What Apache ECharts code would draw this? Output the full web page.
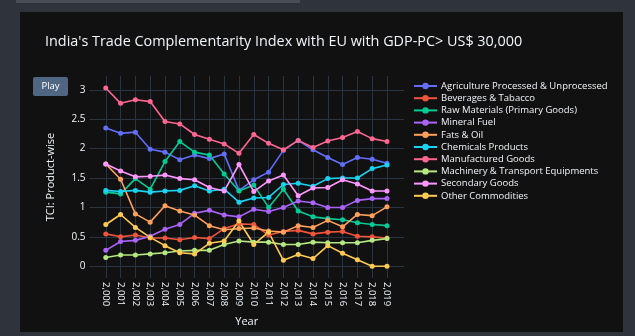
<!DOCTYPE html>
<html>
<head>
<meta charset="utf-8">
<script src="https://cdn.jsdelivr.net/npm/echarts@6/dist/echarts.min.js"></script>
<style>
  html, body { margin: 0; padding: 0; width: 635px; height: 336px; background: #2f333b; overflow: hidden; }
  #strip { position: absolute; left: 16px; top: 0; width: 284px; height: 3px; background: #474c57; }
  #chart { position: absolute; left: 20px; top: 12px; width: 603px; height: 320px; background: #111111; }
</style>
</head>
<body>
<div id="strip"></div>
<div id="chart"></div>
<script>
const years = [2000,2001,2002,2003,2004,2005,2006,2007,2008,2009,2010,2011,2012,2013,2014,2015,2016,2017,2018,2019];
const yTicks = [0, 0.5, 1, 1.5, 2, 2.5, 3];
const seriesNames = [
  'Agriculture Processed & Unprocessed', 'Beverages & Tabacco', 'Raw Materials (Primary Goods)',
  'Mineral Fuel', 'Fats & Oil', 'Chemicals Products', 'Manufactured Goods',
  'Machinery & Transport Equipments', 'Secondary Goods', 'Other Commodities'
];
const agriculture = [2.35,2.26,2.28,1.99,1.94,1.81,1.89,1.83,1.91,1.29,1.47,1.60,1.97,2.14,1.98,1.85,1.73,1.85,1.82,1.75];
const beverages   = [0.55,0.50,0.53,0.48,0.48,0.45,0.49,0.47,0.64,0.72,0.71,0.53,0.59,0.61,0.55,0.58,0.59,0.51,0.50,0.48];
const rawMaterials= [1.26,1.23,1.49,1.31,1.78,2.12,1.94,1.89,1.57,1.28,1.38,1.00,1.31,0.94,0.84,0.81,0.79,0.74,0.71,0.69];
const mineralFuel = [0.27,0.42,0.44,0.51,0.63,0.71,0.90,0.95,0.87,0.84,0.97,0.93,1.00,1.11,1.08,1.00,1.00,1.12,1.15,1.15];
const fatsOil     = [1.74,1.48,0.89,0.75,1.03,0.94,0.87,0.69,0.62,0.64,0.65,0.60,0.58,0.69,0.66,0.78,0.67,0.88,0.86,1.01];
const chemicals   = [1.29,1.27,1.29,1.26,1.28,1.29,1.37,1.28,1.31,1.09,1.16,1.17,1.39,1.41,1.36,1.49,1.50,1.50,1.66,1.72];
const manufactured= [3.03,2.77,2.83,2.80,2.46,2.42,2.24,2.16,2.08,1.92,2.24,2.09,1.98,2.14,2.02,2.13,2.19,2.29,2.17,2.12];
const machinery   = [0.15,0.19,0.19,0.21,0.23,0.26,0.27,0.27,0.37,0.43,0.41,0.41,0.37,0.37,0.41,0.40,0.40,0.40,0.44,0.47];
const secondary   = [1.74,1.62,1.52,1.53,1.55,1.49,1.47,1.34,1.28,1.73,1.27,1.45,1.55,1.20,1.33,1.34,1.47,1.40,1.28,1.28];
const otherComm   = [0.71,0.88,0.66,0.49,0.35,0.23,0.21,0.39,0.43,0.77,0.37,0.58,0.10,0.20,0.13,0.35,0.22,0.11,0.00,0.00];

const allValues = [agriculture, beverages, rawMaterials, mineralFuel, fatsOil, chemicals, manufactured, machinery, secondary, otherComm];
const colors = ['#636efa','#EF553B','#00cc96','#ab63fa','#FFA15A','#19d3f3','#FF6692','#B6E880','#FF97FF','#FECB52'];

const textColor = '#f2f5fa';
const gridColor = '#283442';
const font = '"Open Sans", "DejaVu Sans", sans-serif';

const chart = echarts.init(document.getElementById('chart'), null, { renderer: 'canvas' });

const series = seriesNames.map((name, i) => ({
  name: name,
  type: 'line',
  data: years.map((y, k) => [y, allValues[i][k]]),
  symbol: 'circle',
  symbolSize: 5,
  showSymbol: true,
  lineStyle: { width: 1.6, color: colors[i] },
  itemStyle: { color: colors[i] },
  emphasis: { disabled: true },
  animation: false
}));

chart.setOption({
  backgroundColor: '#111111',
  color: colors,
  animation: false,
  title: {
    text: "India's Trade Complementarity Index with EU with GDP-PC> US$ 30,000",
    left: 20, top: 18,
    textStyle: { color: textColor, fontFamily: font, fontSize: 14.4, fontWeight: 'normal' }
  },
  legend: {
    orient: 'vertical',
    left: 388, top: 64,
    itemWidth: 23, itemHeight: 8, itemGap: 2.2,
    textStyle: { color: textColor, fontFamily: font, fontSize: 9.5, padding: [0, 0, 0, -1] },
    data: seriesNames
  },
  grid: { left: 69.5, right: 219, top: 64, bottom: 51, containLabel: false },
  xAxis: {
    type: 'value',
    min: 1998.9, max: 2020.15,
    name: 'Year', nameLocation: 'middle', nameGap: 38,
    nameTextStyle: { color: textColor, fontFamily: font, fontSize: 11 },
    axisLine: { show: false },
    axisTick: { show: false, customValues: years },
    axisLabel: { customValues: years, rotate: -90, color: textColor, fontFamily: font, fontSize: 9.5, margin: 4 },
    splitLine: { show: true, lineStyle: { color: gridColor, width: 1 } }
  },
  yAxis: {
    type: 'value',
    min: -0.2, max: 3.235,
    name: 'TCI: Product-wise', nameLocation: 'middle', nameGap: 33, nameRotate: 90,
    nameTextStyle: { color: textColor, fontFamily: font, fontSize: 11 },
    axisLine: { show: false },
    axisTick: { show: false, customValues: yTicks },
    axisLabel: { customValues: yTicks, color: textColor, fontFamily: font, fontSize: 10, margin: 4 },
    splitLine: { show: true, lineStyle: { color: gridColor, width: 1 } }
  },
  graphic: [
    {
      type: 'group', left: 13, top: 65,
      children: [
        { type: 'rect', shape: { x: 0, y: 0, width: 35, height: 19, r: 2 }, style: { fill: '#506784' } },
        { type: 'text', x: 17.5, y: 9.5, style: { text: 'Play', fill: '#ffffff', font: '9.5px "Open Sans", sans-serif', align: 'center', verticalAlign: 'middle' } }
      ]
    }
  ],
  series: series
});
</script>
</body>
</html>
